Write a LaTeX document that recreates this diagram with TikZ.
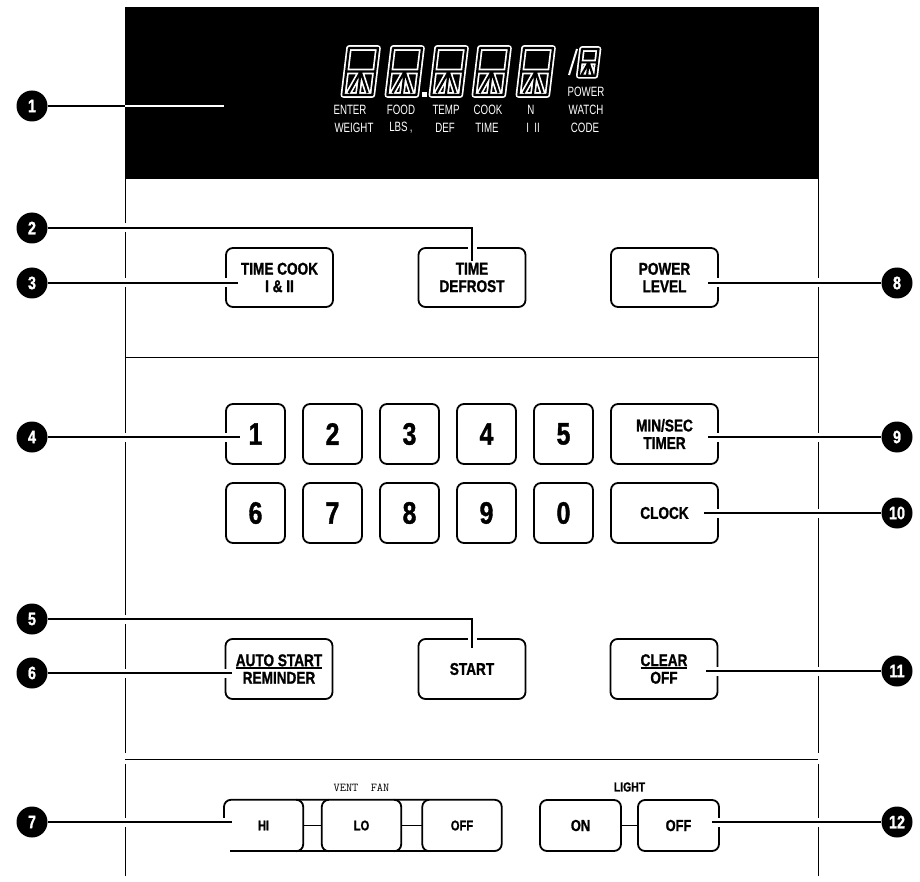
\documentclass[tikz,border=0pt]{standalone}
\usepackage{fontspec}
\setmainfont{Liberation Sans}
\newfontfamily\keyfont[FakeStretch=0.8, BoldFeatures={FakeBold=1.2}]{Liberation Sans}
\newfontfamily\lcdfont[FakeStretch=0.72]{Liberation Sans}
\usetikzlibrary{positioning}

\newcommand{\keyline}[1]{\setbox0\hbox{#1}\rlap{\rule[-2.5pt]{\wd0}{1.4pt}}\box0}

% one hollow display character, top left corner at (#1,#2)
\newcommand{\lcdchar}[3]{%
  \begin{scope}[shift={(#1,#2)}, xslant=0.12, scale=#3]
    \draw[lcdseg] (0,0) rectangle (29,47) (0,23.5) -- (29,23.5)
      (14.5,23.5) -- (14.5,47) (14.5,23.5) -- (5,45) (14.5,23.5) -- (24,45);
  \end{scope}}

\tikzset{
  panel/.style={line width=1pt},
  keybox/.style={draw, line width=1.8pt, rounded corners=7pt, minimum width=107pt, minimum height=59pt,
    inner sep=0pt, align=center, font=\keyfont\bfseries\fontsize{17}{17.5}\selectfont},
  numkey/.style={keybox, minimum width=59pt, minimum height=60pt, font=\keyfont\bfseries\fontsize{31}{31}\selectfont},
  fanbox/.style={minimum width=79pt, minimum height=51pt, inner sep=0pt, font=\keyfont\bfseries\fontsize{14}{14}\selectfont},
  lightbox/.style={keybox, minimum width=81pt, minimum height=51pt, font=\keyfont\bfseries\fontsize{16}{16}\selectfont},
  fanline/.style={line width=1.8pt, rounded corners=7pt},
  marker/.style={circle, fill=black, text=white, minimum size=31pt, inner sep=0pt,
    font=\keyfont\bfseries\fontsize{18}{18}\selectfont},
  leader/.style={line width=2.4pt, preaction={draw=white, line width=9pt}},
  lcdseg/.style={draw=white, line width=1.7pt, double=black, double distance=2.2pt, line join=round},
  lcdlabel/.style={text=white, inner sep=0pt, font=\lcdfont\fontsize{13.5}{13.5}\selectfont},
}

\begin{document}
\begin{tikzpicture}[x=1pt, y=-1pt]
    \useasboundingbox (0,0) rectangle (920,882);

    % panel
    \fill (125,7) rectangle (819,179);
    \draw[panel] (125,179) -- (125,753) (818,179) -- (818,753);
    \draw[panel] (125,764) -- (125,876) (818,764) -- (818,876);
    \draw[panel] (125,357) -- (818,357);
    \draw[panel] (125,759) -- (818,759);

    % display
    \foreach \x in {349,393,437,480,524}
    \lcdchar{\x}{48}{1};
    \fill[white] (422,92) rectangle (427,97);
    \draw[white, line width=2pt] (577,49) -- (569,75);
    \lcdchar{582}{49}{0.57};
    \node[lcdlabel] at (586,92) {POWER};
    \node[lcdlabel] at (350,110) {ENTER};
    \node[lcdlabel] at (401,110) {FOOD};
    \node[lcdlabel] at (446,110) {TEMP};
    \node[lcdlabel] at (488,110) {COOK};
    \node[lcdlabel] at (531,110) {N};
    \node[lcdlabel] at (586,110) {WATCH};
    \node[lcdlabel] at (354,127.5) {WEIGHT};
    \node[lcdlabel] at (401,127.5) {LBS\,,};
    \node[lcdlabel] at (445,127.5) {DEF};
    \node[lcdlabel] at (487,127.5) {TIME};
    \node[lcdlabel] at (533,127.5) {I~~II};
    \node[lcdlabel] at (585,127.5) {CODE};

    % keys
    \node[keybox] (tcook) at (279.5,277.5) {TIME COOK\\I \& II};
    \node[keybox] (tdef) at (472,277.5) {TIME\\DEFROST};
    \node[keybox] (plevel) at (664.5,277.5) {POWER\\LEVEL};
    \foreach \n [count=\i] in {1,...,5}
    \node[numkey] (k\n) at ({178.5+77*\i},434) {\n};
    \foreach \n [count=\i] in {6,7,8,9,0}
    \node[numkey] (k\n) at ({178.5+77*\i},513) {\n};
    \node[keybox, minimum height=60pt] (minsec) at (664.5,434) {MIN/SEC\\TIMER};
    \node[keybox, minimum height=60pt] (clock) at (664.5,513) {CLOCK};
    \node[keybox, minimum height=60pt] (autostart) at (279,669) {\keyline{AUTO START}\\REMINDER};
    \node[keybox, minimum height=60pt] (start) at (472,669) {START};
    \node[keybox, minimum height=60pt] (clear) at (664,669) {\keyline{CLEAR}\\OFF};

    % vent fan and light
    \node[fanbox] (hi) at (263.5,825.5) {HI};
    \node[fanbox] (lo) at (361.5,825.5) {LO};
    \node[fanbox] (foff) at (462,825.5) {OFF};
    \node[font=\ttfamily\fontsize{12}{12}\selectfont, above=5pt of lo.north] (ventlabel) {VENT~~FAN};
    \draw[fanline] (224,822) |- (foff.north east) |- (230,851);
    \draw[fanline] ([xshift=-7pt]hi.north east) -| (hi.east) |- ([xshift=-7pt]hi.south east);
    \draw[fanline] ([xshift=7pt]lo.north west) -| (lo.west) |- ([xshift=7pt]lo.south west);
    \draw[fanline] ([xshift=-7pt]lo.north east) -| (lo.east) |- ([xshift=-7pt]lo.south east);
    \draw[fanline] ([xshift=7pt]foff.north west) -| (foff.west) |- ([xshift=7pt]foff.south west);
    \draw[line width=1.8pt] (hi.east) -- (lo.west) (lo.east) -- (foff.west);
    \node[lightbox] (lon) at (580.5,825.5) {ON};
    \node[lightbox] (loff) at (678.5,825.5) {OFF};
    \draw[line width=1.8pt] (lon) -- (loff);
    \node[font=\keyfont\bfseries\fontsize{13}{13}\selectfont] (lightlabel) at (629.5,787) {LIGHT};

    % callouts
    \node[marker] (m1) at (32,106) {1};
    \node[marker] (m2) at (32,228) {2};
    \node[marker] (m3) at (32,283) {3};
    \node[marker] (m4) at (32,437) {4};
    \node[marker] (m5) at (32,619) {5};
    \node[marker] (m6) at (32,673) {6};
    \node[marker] (m7) at (32,822) {7};
    \node[marker] (m8) at (897,283) {8};
    \node[marker] (m9) at (897,437) {9};
    \node[marker] (m10) at (897,513) {10};
    \node[marker] (m11) at (897,671) {11};
    \node[marker] (m12) at (897,822) {12};

    \coordinate (lcdedge) at (125,106);
    \coordinate (lcdend) at (224,106);
    \draw[leader] (m1) -- (lcdedge);
    \draw[white, line width=2.4pt] (lcdedge) -- (lcdend);
    \draw[leader] (m2) -| ([yshift=-14pt]tdef.north);
    \draw[leader] (m3) -- (m3 -| tcook.west) -- ++(13,0);
    \draw[leader] (m4) -- (m4 -| k1.west) -- ++(15,0);
    \draw[leader] (m5) -| ([yshift=-10pt]start.north);
    \draw[leader] (m6) -- (m6 -| autostart.west) -- ++(7,0);
    \draw[leader] (m7) -- (m7 -| hi.west) -- ++(8,0);
    \draw[leader] (m8) -- (m8 -| plevel.east) -- ++(-11,0);
    \draw[leader] (m9) -- (m9 -| minsec.east) -- ++(-11,0);
    \draw[leader] (m10) -- (m10 -| clock.east) -- ++(-15,0);
    \draw[leader] (m11) -- (m11 -| clear.east) -- ++(-12,0);
    \draw[leader] (m12) -- (m12 -| loff.east) -- ++(-8,0);
\end{tikzpicture}
\end{document}
